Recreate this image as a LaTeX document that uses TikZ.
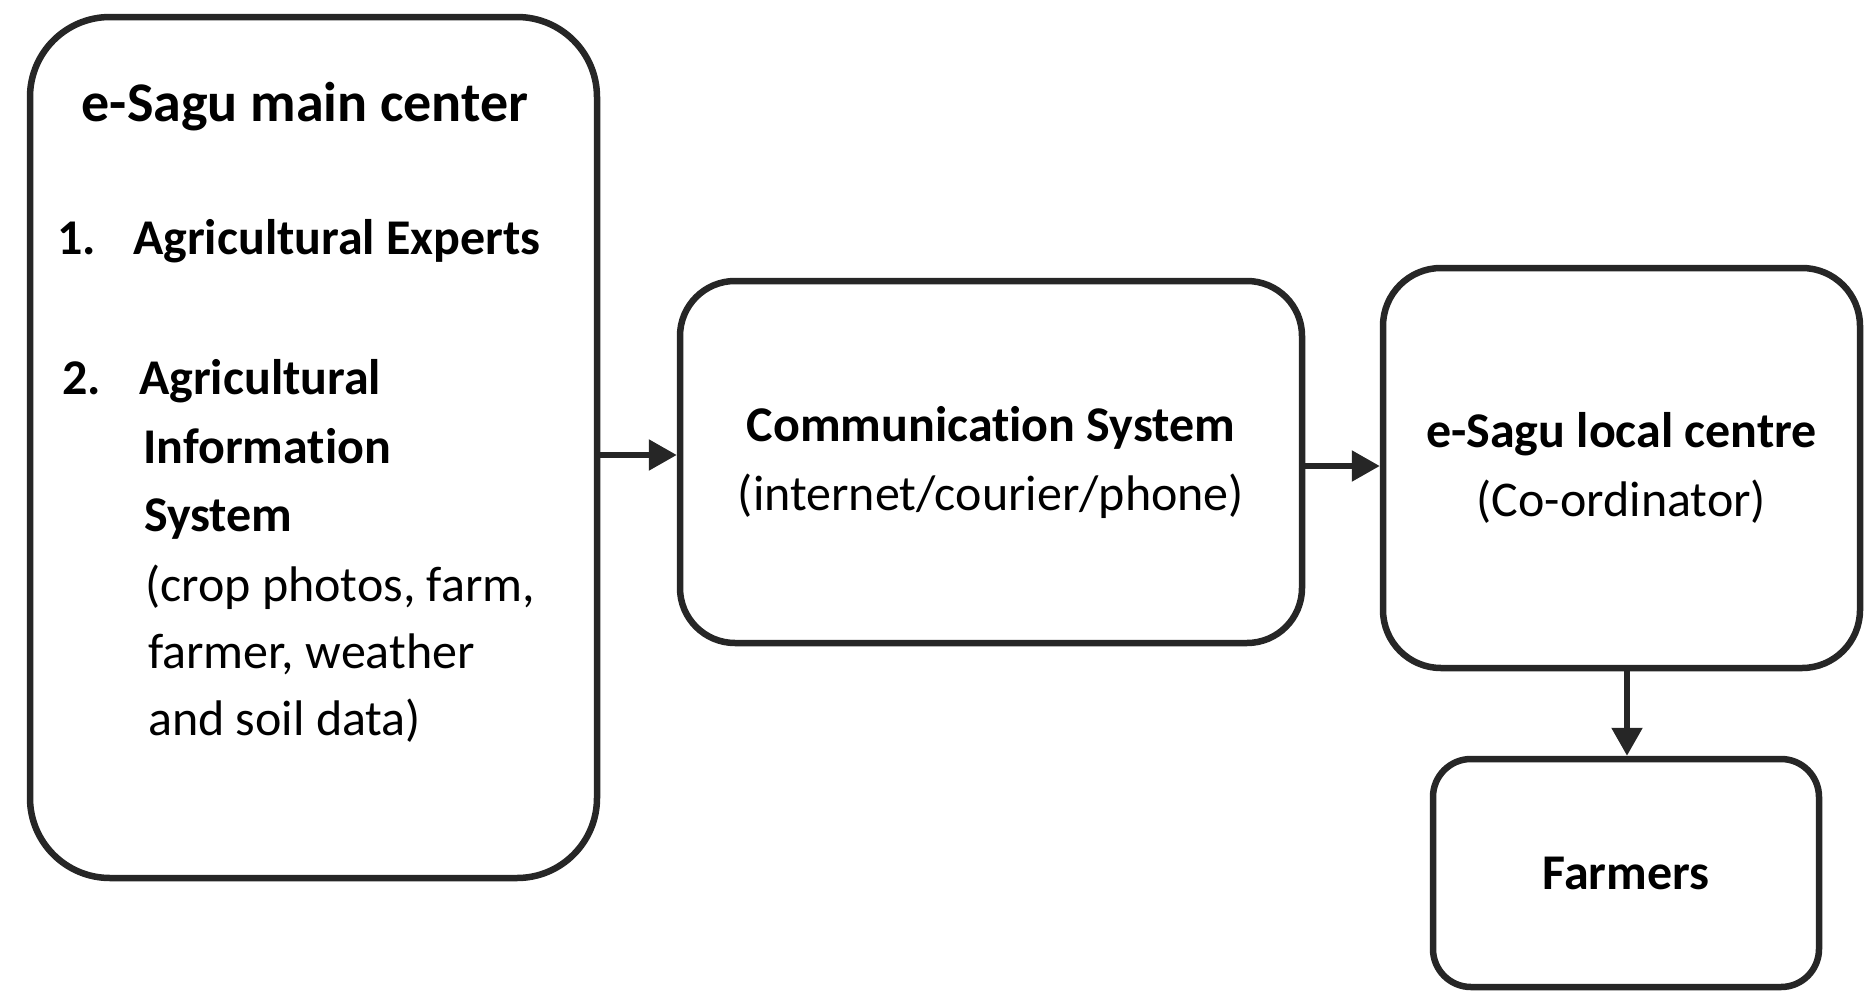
\documentclass[tikz,border=0pt]{standalone}
\usepackage{fontspec}
\setmainfont{Carlito}[Ligatures=NoCommon]
\usetikzlibrary{arrows.meta}
\begin{document}
\begin{tikzpicture}[x=1pt,y=-1pt,
  box/.style={draw=black!85, line width=6.5pt, rounded corners=#1, inner sep=0pt, align=center,
              font=\fontsize{50}{69}\selectfont},
  txt/.style={inner sep=0pt, anchor=base west, font=\fontsize{50}{69}\selectfont},
  btxt/.style={txt, font=\fontsize{50}{69}\selectfont\bfseries},
  arr/.style={draw=black!85, line width=5.5pt, -{Triangle[length=28pt,width=30pt]}}]
\useasboundingbox (0,0) rectangle (1864,993);
% boxes
\node[box=80, minimum width=567pt, minimum height=861pt] (main) at (313.5,447.5) {};
\node[box=55, minimum width=622pt, minimum height=362pt] (comm) at (991,462)
  {\textbf{Communication System}\\(internet/courier/phone)};
\node[box=58, minimum width=477pt, minimum height=400pt] (local) at (1621.5,468)
  {\textbf{e-Sagu local centre}\\(Co-ordinator)};
\node[box=38, minimum width=386pt, minimum height=228pt] (farm) at (1626,873)
  {\textbf{Farmers}};
% main box text
\node[inner sep=0pt, font=\fontsize{56}{69}\selectfont\bfseries] (title) at (305,107) {e-Sagu main center};
\node[btxt] (n1) at (57,254) {1.};
\node[btxt] (i1) at (133,254) {Agricultural Experts};
\node[btxt] (n2) at (62,394) {2.};
\node[btxt] (i2a) at (139,394) {Agricultural};
\node[btxt] (i2b) at (143,463) {Information};
\node[btxt] (i2c) at (144,531) {System};
\node[txt] (i2d) at (145,601) {(crop photos, farm,};
\node[txt] (i2e) at (148,668) {farmer, weather};
\node[txt] (i2f) at (148,735) {and soil data)};
% arrows
\coordinate (a1) at (0,455);
\draw[arr] (main.east |- a1) -- (comm.west |- a1);
\coordinate (a2) at (0,466);
\draw[arr] (comm.east |- a2) -- (local.west |- a2);
\coordinate (a3) at (1627,0);
\draw[arr] (local.south -| a3) -- (farm.north -| a3);
\end{tikzpicture}
\end{document}
